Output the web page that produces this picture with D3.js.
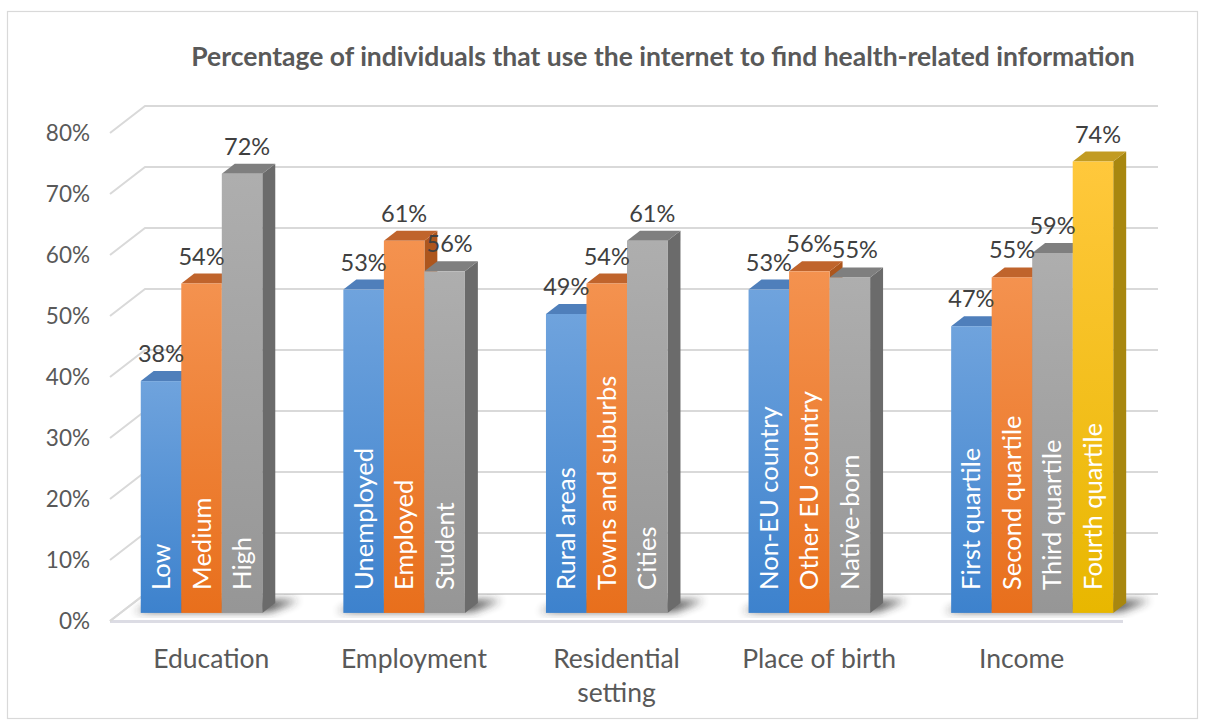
<!DOCTYPE html>
<html>
<head>
<meta charset="utf-8">
<script src="https://cdn.jsdelivr.net/npm/d3@7"></script>
<style>
  html, body { margin: 0; padding: 0; background: #ffffff; }
  svg { display: block; }
  text { font-family: Lato, "Open Sans", sans-serif; }
</style>
</head>
<body>
<svg id="chart" width="1206" height="725"></svg>
<script>
// ---- Data -------------------------------------------------------------
const title = "Percentage of individuals that use the internet to find health-related information";
const categories = ["Education", "Employment", "Residential setting", "Place of birth", "Income"];
const groupLabels = [
  ["Low", "Medium", "High"],
  ["Unemployed", "Employed", "Student"],
  ["Rural areas", "Towns and suburbs", "Cities"],
  ["Non-EU country", "Other EU country", "Native-born"],
  ["First quartile", "Second quartile", "Third quartile", "Fourth quartile"]
];
const groupValues = [
  [38, 54, 72],
  [53, 61, 56],
  [49, 54, 61],
  [53, 56, 55],
  [47, 55, 59, 74]
];
const yTicks = [0, 10, 20, 30, 40, 50, 60, 70, 80];

// ---- Styling ----------------------------------------------------------
const slotColors = [
  { top: "#6fa3dd", bottom: "#3d82cd", cap: "#4f7fbb", side: "#3766a0" },
  { top: "#f4924f", bottom: "#e86f1c", cap: "#c0642c", side: "#ad561d" },
  { top: "#aeaeae", bottom: "#969696", cap: "#7f7f7f", side: "#6b6b6b" },
  { top: "#ffc83c", bottom: "#e8b700", cap: "#c29b22", side: "#a8870f" }
];

const svg = d3.select("#chart");
const W = 1206, H = 725;

// Oblique projection: front plane of the plot and the depth direction
const front = { left: 110, right: 1123 };
const depthVec = { dx: 35, dy: -27 };
const barDepth = [0.3, 0.67];

const y = d3.scaleLinear().domain([0, 80]).range([621, 133]);
const xCat = d3.scaleBand().domain(categories)
  .range([front.left, front.right]).paddingInner(0.2).paddingOuter(0.1);
const xSlot = d3.scaleBand().domain(d3.range(4)).range([0, xCat.bandwidth()]);

const P = (x, v, t) => [x + depthVec.dx * t, y(v) + depthVec.dy * t];
const poly = pts => "M" + pts.map(p => p.join(",")).join("L") + "Z";

// ---- Defs: gradients and shadow blur ------------------------------------
const defs = svg.append("defs");
slotColors.forEach((c, i) => {
  const g = defs.append("linearGradient").attr("id", "face" + i)
    .attr("x1", 0).attr("y1", 0).attr("x2", 0).attr("y2", 1);
  g.append("stop").attr("offset", "0%").attr("stop-color", c.top);
  g.append("stop").attr("offset", "100%").attr("stop-color", c.bottom);
});
defs.append("filter").attr("id", "soft").attr("x", "-50%").attr("y", "-50%")
  .attr("width", "200%").attr("height", "200%")
  .append("feGaussianBlur").attr("stdDeviation", 4);

// ---- Chart frame ------------------------------------------------------
svg.append("rect").attr("x", 0).attr("y", 0).attr("width", W).attr("height", H).attr("fill", "#ffffff");
svg.append("rect").attr("x", 7.5).attr("y", 11.5).attr("width", 1190).attr("height", 707)
  .attr("fill", "none").attr("stroke", "#d9d9d9").attr("stroke-width", 1.2);

svg.append("text")
  .attr("x", 663).attr("y", 66)
  .attr("text-anchor", "middle")
  .attr("font-size", 26.5).attr("font-weight", "bold")
  .attr("fill", "#595959")
  .text(title);

// ---- Walls and floor ----------------------------------------------------
const walls = svg.append("g");
// floor slab
walls.append("path")
  .attr("d", poly([P(front.left, 0, 0), P(front.right, 0, 0), P(front.right, 0, 1), P(front.left, 0, 1)]))
  .attr("fill", "#ffffff");
walls.append("line")
  .attr("x1", front.left).attr("x2", front.right)
  .attr("y1", y(0) + 0.5).attr("y2", y(0) + 0.5)
  .attr("stroke", "#dcdce4").attr("stroke-width", 3);
walls.append("line")
  .attr("x1", P(front.left, 0, 0)[0]).attr("y1", P(front.left, 0, 0)[1])
  .attr("x2", P(front.left, 0, 1)[0]).attr("y2", P(front.left, 0, 1)[1])
  .attr("stroke", "#d9d9d9").attr("stroke-width", 2);

// gridlines: side-wall diagonals and back-wall horizontals
yTicks.forEach(v => {
  const a = P(front.left, v, 0), b = P(front.left, v, 1), c = P(front.right, v, 1);
  walls.append("path")
    .attr("d", `M${a[0]},${a[1]}L${b[0]},${b[1]}L${c[0]},${c[1]}`)
    .attr("fill", "none").attr("stroke", "#d9d9d9").attr("stroke-width", 2);
});

// ---- Axes -------------------------------------------------------------
const yAxis = svg.append("g")
  .attr("transform", `translate(${front.left},0)`)
  .call(d3.axisLeft(y).tickValues(yTicks).tickFormat(d => d + "%").tickSize(0).tickPadding(20));
yAxis.select(".domain").remove();
yAxis.selectAll("text").attr("font-size", 22.5).attr("fill", "#595959")
  .attr("font-family", "Lato, 'Open Sans', sans-serif");

const xAxis = svg.append("g")
  .attr("transform", `translate(0,${y(0)})`)
  .call(d3.axisBottom(xCat).tickSize(0).tickPadding(0));
xAxis.select(".domain").remove();
xAxis.selectAll("text").each(function (d) {
  const t = d3.select(this).text("")
    .attr("font-size", 26.5).attr("fill", "#595959").attr("dy", null)
    .attr("font-family", "Lato, 'Open Sans', sans-serif");
  const lines = d === "Residential setting" ? ["Residential", "setting"] : [d];
  lines.forEach((ln, k) => {
    t.append("tspan").attr("x", 0).attr("y", 47 + k * 34).text(ln);
  });
});

// ---- Bars ---------------------------------------------------------------
const [t0, t1] = barDepth;
const bw = xSlot.bandwidth();
const plot = svg.append("g");

categories.forEach((cat, gi) => {
  const vals = groupValues[gi];
  const gx0 = xCat(cat) + xSlot(0);
  const gx1 = xCat(cat) + xSlot(vals.length - 1) + bw;
  // soft shadow under the group footprint
  const s0 = P(gx0 - 8, 0, t0 + 0.05), s1 = P(gx1 + 6, 0, t0 + 0.05);
  const s2 = P(gx1 + 20, 0, t1 + 0.1), s3 = P(gx0 + 6, 0, t1 + 0.1);
  plot.append("path").attr("d", poly([s0, s1, s2, s3]))
    .attr("fill", "#2a2a2a").attr("opacity", 0.8).attr("filter", "url(#soft)");
});

categories.forEach((cat, gi) => {
  const vals = groupValues[gi];
  vals.forEach((v, i) => {
    const c = slotColors[i];
    const xl = xCat(cat) + xSlot(i), xr = xl + bw;
    const g = plot.append("g");
    // right side face
    g.append("path").attr("d", poly([P(xr, 0, t0), P(xr, v, t0), P(xr, v, t1), P(xr, 0, t1)]))
      .attr("fill", c.side);
    // top face
    g.append("path").attr("d", poly([P(xl, v, t0), P(xr, v, t0), P(xr, v, t1), P(xl, v, t1)]))
      .attr("fill", c.cap);
    // front face
    const f0 = P(xl, v, t0), f1 = P(xr, 0, t0);
    g.append("rect").attr("x", f0[0]).attr("y", f0[1])
      .attr("width", f1[0] - f0[0]).attr("height", f1[1] - f0[1])
      .attr("fill", `url(#face${i})`);
  });
});

// ---- Labels -------------------------------------------------------------
categories.forEach((cat, gi) => {
  const vals = groupValues[gi];
  vals.forEach((v, i) => {
    const xl = xCat(cat) + xSlot(i);
    const last = i === vals.length - 1;
    const topFront = P(xl + bw / 2, v, t0);
    plot.append("text")
      .attr("x", topFront[0] + (last ? 5 : 0)).attr("y", P(0, v, t1)[1] - 9)
      .attr("text-anchor", "middle")
      .attr("font-size", 23.5).attr("fill", "#404040")
      .text(v + "%");

    const base = P(xl + bw / 2, 0, t0);
    plot.append("text")
      .attr("transform", `translate(${base[0] + 9},${base[1] - 23}) rotate(-90)`)
      .attr("font-size", 25.5).attr("fill", "#ffffff")
      .text(groupLabels[gi][i]);
  });
});
</script>
</body>
</html>
